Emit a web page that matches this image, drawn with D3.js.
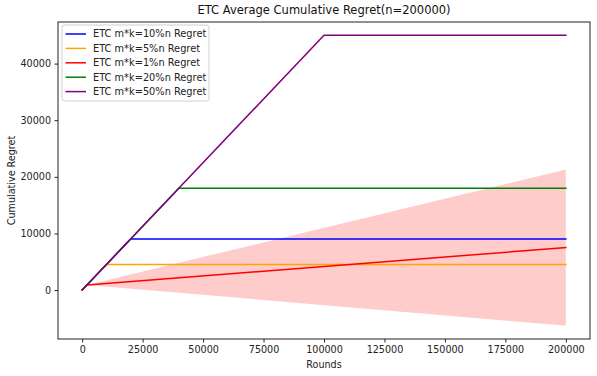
<!DOCTYPE html>
<html>
<head>
<meta charset="utf-8">
<script src="https://cdn.jsdelivr.net/npm/d3@7"></script>
<style>
html,body{margin:0;padding:0;background:#fff;}
svg{display:block;font-family:"DejaVu Sans",sans-serif;}
</style>
</head>
<body>
<svg id="chart" width="597" height="376"></svg>
<script>
// ---- data ----
const seriesNames = ["ETC m*k=10%n Regret","ETC m*k=5%n Regret","ETC m*k=1%n Regret","ETC m*k=20%n Regret","ETC m*k=50%n Regret"];
const seriesColors = ["blue","orange","red","green","purple"];
const roundsBlue = [0, 20000, 200000];
const regretBlue = [0, 9000, 9000];
const roundsOrange = [0, 10000, 200000];
const regretOrange = [0, 4500, 4500];
const roundsRed = [0, 2000, 200000];
const regretRed = [0, 900, 7500];
const roundsGreen = [0, 40000, 200000];
const regretGreen = [0, 18000, 18000];
const roundsPurple = [0, 100000, 200000];
const regretPurple = [0, 45000, 45000];
const bandRounds = [2000, 200000];
const bandLower = [900, -6300];
const bandUpper = [900, 21300];
const xTicks = [0, 25000, 50000, 75000, 100000, 125000, 150000, 175000, 200000];
const yTicks = [0, 10000, 20000, 30000, 40000];
const titleText = "ETC Average Cumulative Regret(n=200000)";
const xLabel = "Rounds";
const yLabel = "Cumulative Regret";

const allX = [roundsBlue, roundsOrange, roundsRed, roundsGreen, roundsPurple];
const allY = [regretBlue, regretOrange, regretRed, regretGreen, regretPurple];

// ---- layout ----
const svg = d3.select("#chart");
const L = 58, R = 590, T = 22, B = 339;
const x = d3.scaleLinear().domain([-10000, 210000]).range([L, R]);
const y = d3.scaleLinear().domain([-8650, 47350]).range([B, T]);

// band
const bandData = bandRounds.map((r, i) => ({r, lo: bandLower[i], hi: bandUpper[i]}));
svg.append("path")
  .datum(bandData)
  .attr("fill", "red").attr("fill-opacity", 0.2).attr("stroke", "none")
  .attr("d", d3.area().x(d => x(d.r)).y0(d => y(d.lo)).y1(d => y(d.hi)));

// lines
const line = d3.line().x(d => x(d[0])).y(d => y(d[1]));
allX.forEach((xs, i) => {
  const pts = xs.map((v, j) => [v, allY[i][j]]);
  svg.append("path").datum(pts)
    .attr("fill", "none").attr("stroke", seriesColors[i])
    .attr("stroke-width", 1.5).attr("stroke-linejoin", "round").attr("stroke-linecap", "square")
    .attr("d", line);
});

// frame
svg.append("rect").attr("x", L).attr("y", T).attr("width", R - L).attr("height", B - T)
  .attr("fill", "none").attr("stroke", "#222").attr("stroke-width", 1);

// axes
const xAxis = svg.append("g").attr("transform", `translate(0,${B})`)
  .call(d3.axisBottom(x).tickValues(xTicks).tickFormat(d3.format("d")).tickSizeOuter(0).tickSize(3.5).tickPadding(3.5));
const yAxis = svg.append("g").attr("transform", `translate(${L},0)`)
  .call(d3.axisLeft(y).tickValues(yTicks).tickFormat(d3.format("d")).tickSizeOuter(0).tickSize(3.5).tickPadding(3.5));
[xAxis, yAxis].forEach(a => {
  a.select(".domain").remove();
  a.selectAll("line").attr("stroke", "#222");
  a.selectAll("text").attr("font-size", 9.6).attr("fill", "#222").attr("font-family", "DejaVu Sans");
});

// labels
svg.append("text").attr("x", (L + R) / 2).attr("y", 14).attr("text-anchor", "middle")
  .attr("font-size", 11.5).attr("fill", "#111").text(titleText);
svg.append("text").attr("x", (L + R) / 2).attr("y", 367.5).attr("text-anchor", "middle")
  .attr("font-size", 9.6).attr("fill", "#222").text(xLabel);
svg.append("text").attr("transform", `translate(15,${(T + B) / 2}) rotate(-90)`).attr("text-anchor", "middle")
  .attr("font-size", 9.6).attr("fill", "#222").text(yLabel);

// legend
const lg = svg.append("g");
lg.append("rect").attr("x", 62).attr("y", 25).attr("width", 147).attr("height", 76).attr("rx", 2.5)
  .attr("fill", "white").attr("fill-opacity", 0.8).attr("stroke", "#d0d0d0").attr("stroke-width", 1);
seriesNames.forEach((n, i) => {
  const yy = 34 + i * 14.4;
  lg.append("line").attr("x1", 65.5).attr("x2", 86).attr("y1", yy).attr("y2", yy)
    .attr("stroke", seriesColors[i]).attr("stroke-width", 1.5);
  lg.append("text").attr("x", 93).attr("y", yy + 3.4).attr("font-size", 9.8).attr("fill", "#222").text(n);
});
</script>
</body>
</html>
